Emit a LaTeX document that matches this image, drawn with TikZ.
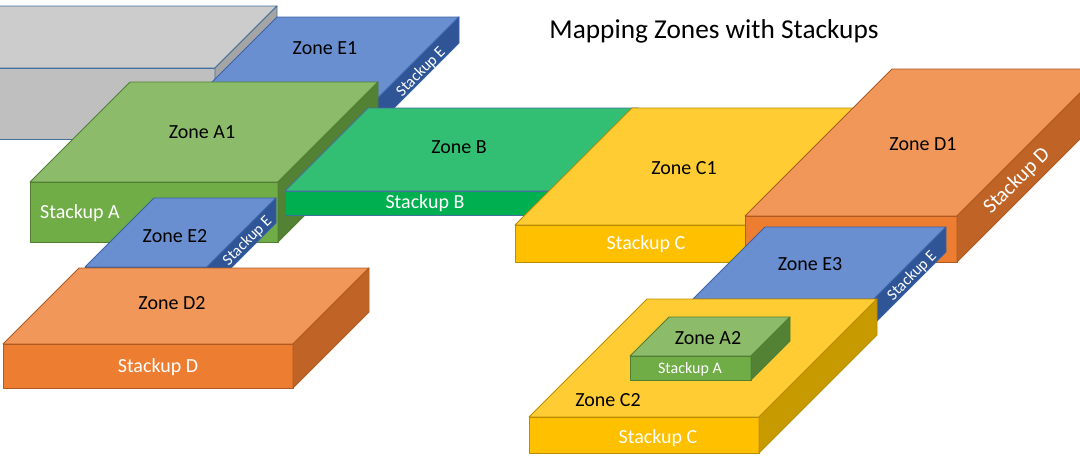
\documentclass[tikz,border=0pt]{standalone}
\usepackage{fontspec}
\setmainfont{Carlito}
\definecolor{gtop}{HTML}{CCCCCC}\definecolor{gfront}{HTML}{BFBFBF}\definecolor{gside}{HTML}{A5A5A5}
\definecolor{btop}{HTML}{6A8FD0}\definecolor{bfront}{HTML}{4472C4}\definecolor{bside}{HTML}{2F5597}\definecolor{bline}{HTML}{3A62A8}
\definecolor{atop}{HTML}{8CBC6A}\definecolor{afront}{HTML}{70AD47}\definecolor{aside}{HTML}{548235}\definecolor{aline}{HTML}{507E32}
\definecolor{ztop}{HTML}{33BF73}\definecolor{zfront}{HTML}{00B050}\definecolor{zside}{HTML}{00843C}
\definecolor{ctop}{HTML}{FFCD33}\definecolor{cfront}{HTML}{FFC000}\definecolor{cside}{HTML}{C79A00}\definecolor{cline}{HTML}{BC8C00}
\definecolor{dtop}{HTML}{F19759}\definecolor{dfront}{HTML}{ED7D31}\definecolor{dside}{HTML}{BF6426}\definecolor{dline}{HTML}{AE5A21}
\definecolor{oline}{HTML}{41719C}
% #1 x-left #2 x-right #3 y-top #4 y-bottom #5 depth #6 top #7 front #8 side #9 line
\newcommand\cuboidbox[9]{%
  \filldraw[fill=#6,draw=#9,line width=0.9pt,line join=round] (#1,#3) -- ({#1+#5},{#3-#5}) -- ({#2+#5},{#3-#5}) -- (#2,#3) -- cycle;
  \filldraw[fill=#7,draw=#9,line width=0.9pt,line join=round] (#1,#3) rectangle (#2,#4);
  \filldraw[fill=#8,draw=#9,line width=0.9pt,line join=round] (#2,#3) -- ({#2+#5},{#3-#5}) -- ({#2+#5},{#4-#5}) -- (#2,#4) -- cycle;
}
\tikzset{
  zonelbl/.style={font=\fontsize{20}{24}\selectfont, anchor=base, text=black, inner sep=0pt},
  stklbl/.style={font=\fontsize{20}{24}\selectfont, anchor=base, text=white, inner sep=0pt},
  sidelbl/.style={font=\fontsize{16}{19}\selectfont, anchor=center, text=white, inner sep=0pt, rotate=45},
  smalllbl/.style={font=\fontsize{16}{19}\selectfont, anchor=base, text=white, inner sep=0pt},
  titlelbl/.style={font=\fontsize{27.3}{32}\selectfont, anchor=base, text=black, inner sep=0pt}
}
\begin{document}
\begin{tikzpicture}[x=1pt,y=-1pt]
\useasboundingbox (0,0) rectangle (1080,458);
\clip (0,0) rectangle (1080,458);
\fill[white] (0,0) rectangle (1080,458);
% gray
\cuboidbox{-80}{215}{68}{139}{62}{gtop}{gfront}{gside}{oline}
% E1
\cuboidbox{187}{369}{107}{133}{90}{btop}{bfront}{bside}{bline}
% A1
\cuboidbox{30}{278}{182}{242}{100}{atop}{afront}{aside}{aline}
% B
\cuboidbox{285}{555}{191}{215}{83}{ztop}{zfront}{zside}{oline}
% C1
\cuboidbox{515}{800}{225}{262}{117}{ctop}{cfront}{cside}{cline}
% D1
\cuboidbox{745}{957}{216}{262}{147}{dtop}{dfront}{dside}{dline}
% E2
\cuboidbox{85}{207}{267}{292}{69}{btop}{bfront}{bside}{bline}
% D2
\cuboidbox{3}{293}{344}{388}{76}{dtop}{dfront}{dside}{dline}
% E3
\cuboidbox{693}{874}{299}{324}{72}{btop}{bfront}{bside}{bline}
% C2
\cuboidbox{529}{759}{417}{453}{118}{ctop}{cfront}{cside}{cline}
% A2
\cuboidbox{630}{751}{356}{380}{39}{atop}{afront}{aside}{aline}

\node[titlelbl] (title) at (714,38) {Mapping Zones with Stackups};
\node[zonelbl] (ze1) at (325,54) {Zone E1};
\node[sidelbl] (se1) at (421,72) {Stackup E};
\node[zonelbl] (za1) at (202,138) {Zone A1};
\node[stklbl] (sa1) at (80,218) {Stackup A};
\node[zonelbl] (ze2) at (175,242) {Zone E2};
\node[sidelbl] (se2) at (247.5,241) {Stackup E};
\node[zonelbl] (zb) at (459,153) {Zone B};
\node[stklbl] (sb) at (425,208) {Stackup B};
\node[zonelbl] (zc1) at (684,174) {Zone C1};
\node[stklbl] (sc1) at (646,249) {Stackup C};
\node[zonelbl] (zd1) at (923,150) {Zone D1};
\node[sidelbl,font=\fontsize{21}{25}\selectfont] (sd1) at (1017,181) {Stackup D};
\node[zonelbl] (zd2) at (172,309) {Zone D2};
\node[stklbl] (sd2) at (158,372) {Stackup D};
\node[zonelbl] (ze3) at (810,270) {Zone E3};
\node[sidelbl] (se3) at (912,276) {Stackup E};
\node[zonelbl] (za2) at (708,344) {Zone A2};
\node[smalllbl] (sa2) at (690,373) {Stackup A};
\node[zonelbl] (zc2) at (608,406) {Zone C2};
\node[stklbl] (sc2) at (658,443) {Stackup C};
\end{tikzpicture}
\end{document}
